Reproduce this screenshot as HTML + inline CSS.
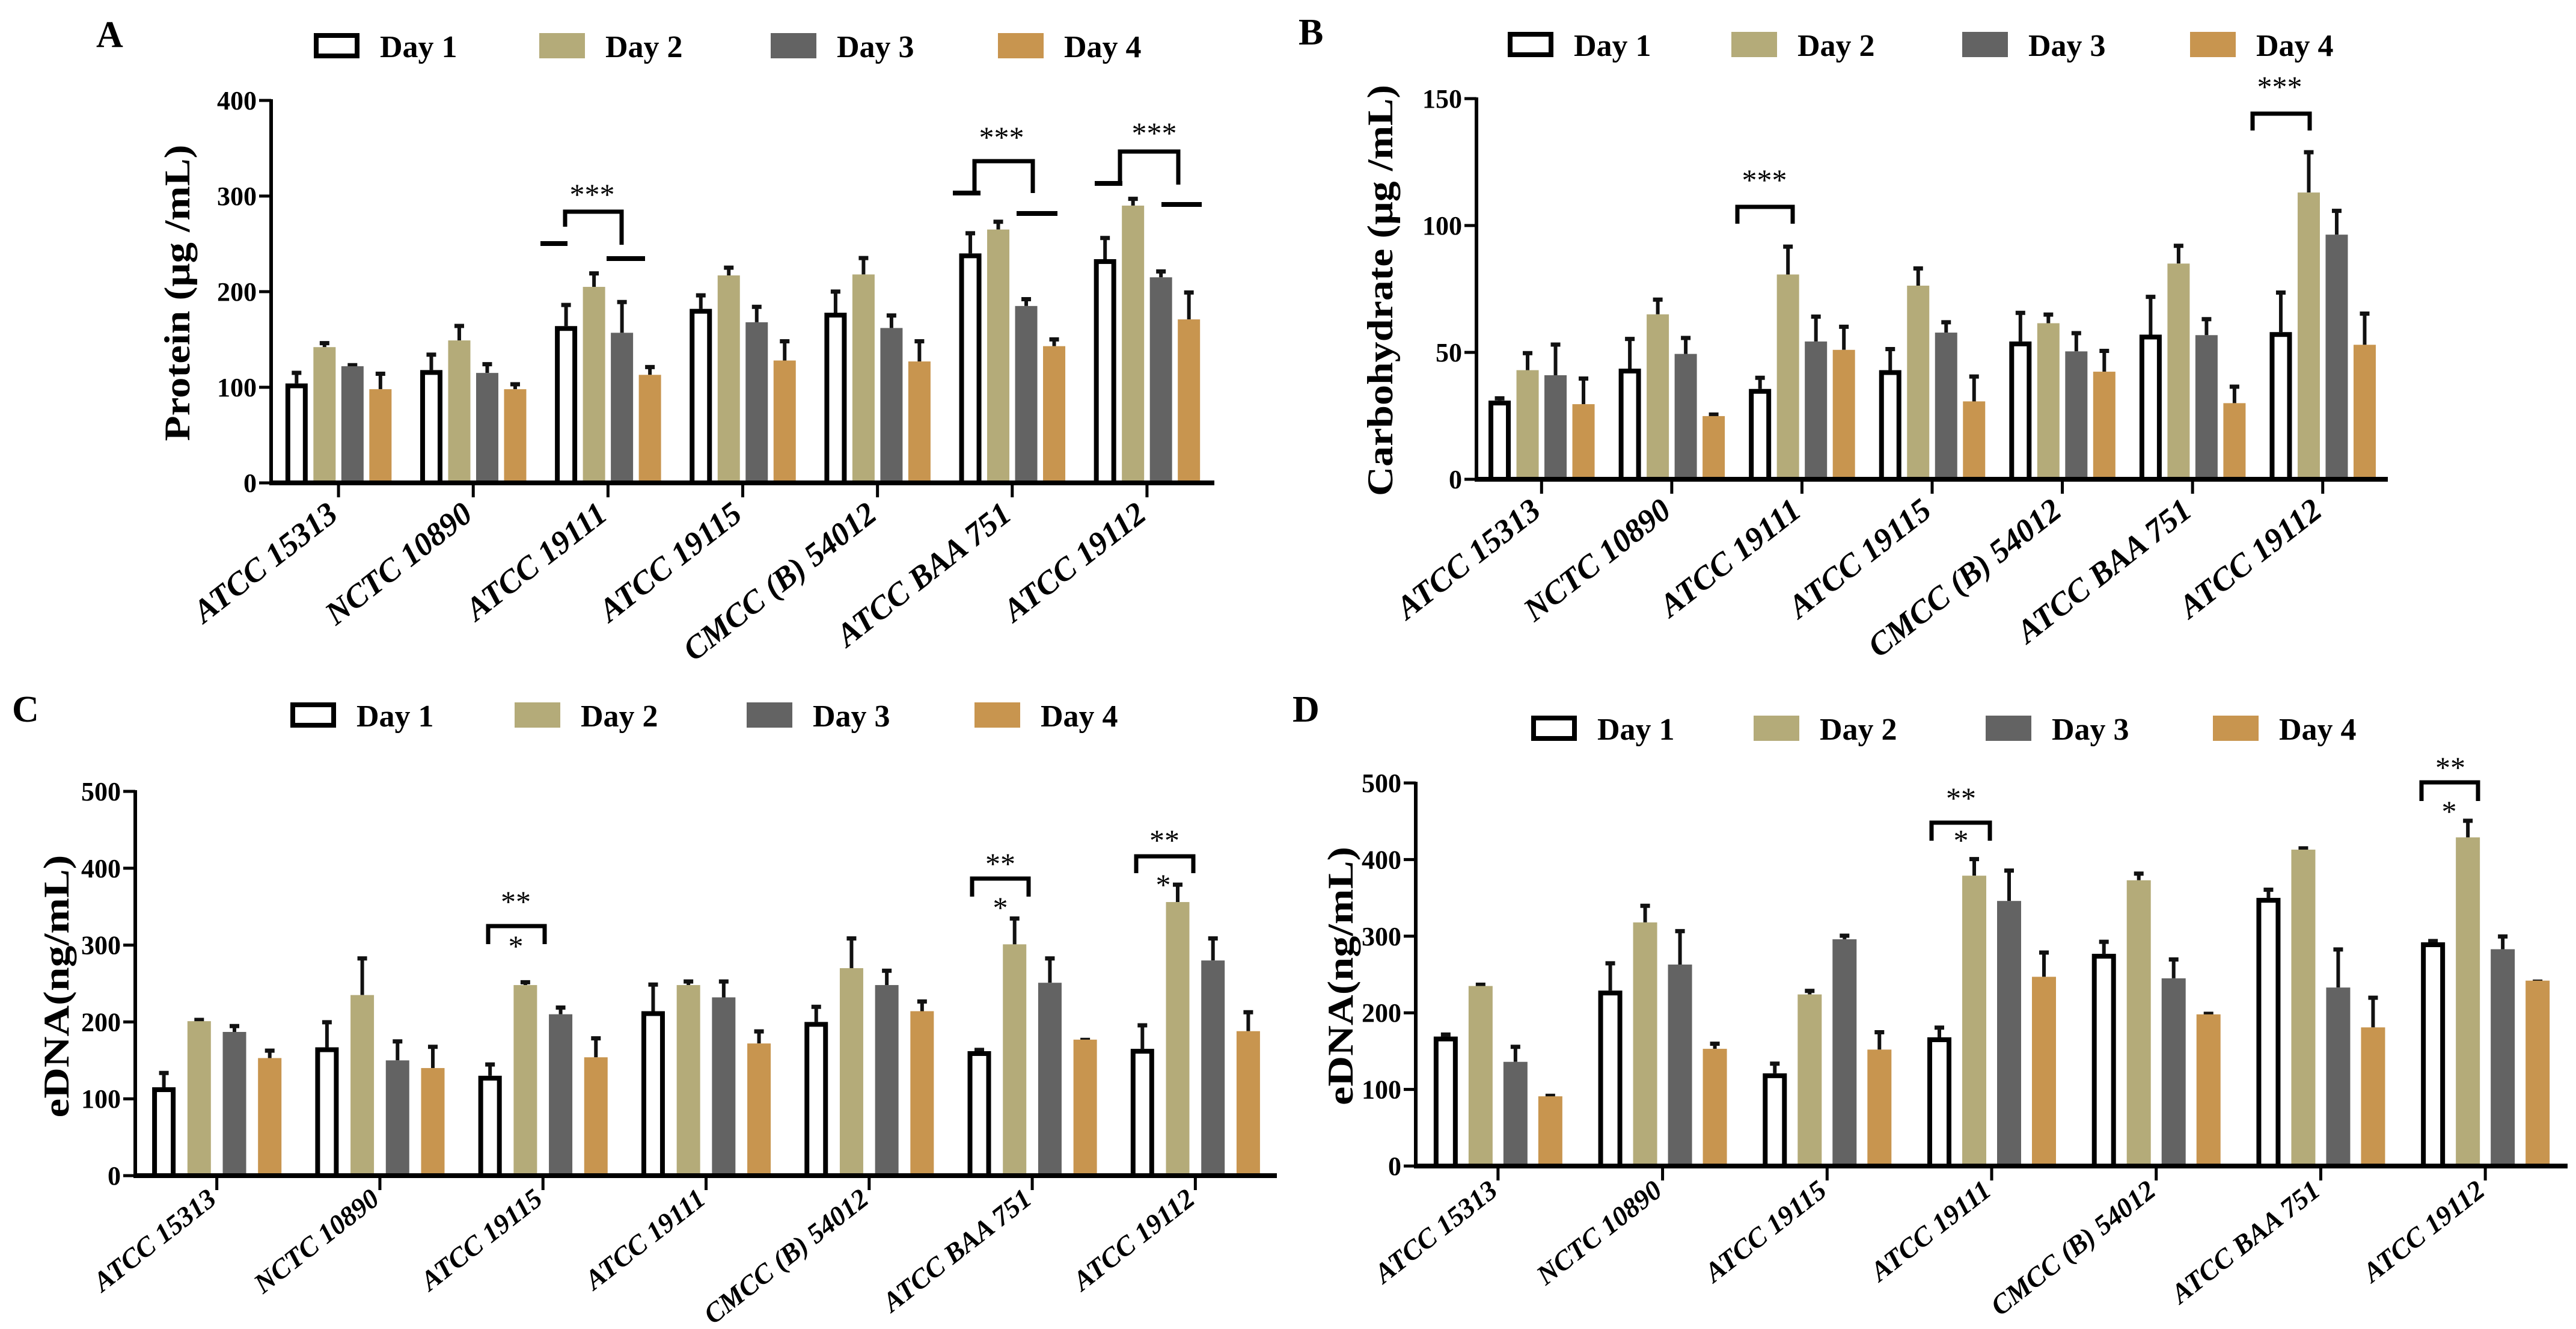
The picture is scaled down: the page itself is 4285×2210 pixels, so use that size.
<!DOCTYPE html>
<html><head><meta charset="utf-8"><style>
html,body{margin:0;padding:0;background:#fff;}
svg{display:block;}
text{font-family:"Liberation Serif",serif;}
</style></head><body>
<svg id="fig" xmlns="http://www.w3.org/2000/svg" width="4285" height="2210" viewBox="0 0 4285 2210">
<rect width="4285" height="2210" fill="#fff"/>
</svg>
<script>
// ---- data ----
const catsAB = ["ATCC 15313","NCTC 10890","ATCC 19111","ATCC 19115","CMCC (B) 54012","ATCC BAA 751","ATCC 19112"];
const catsCD = ["ATCC 15313","NCTC 10890","ATCC 19115","ATCC 19111","CMCC (B) 54012","ATCC BAA 751","ATCC 19112"];
const legendLabels = ["Day 1","Day 2","Day 3","Day 4"];

const protD1 = [104,118,164,182,178,240,234];
const protD2 = [142,149,205,217,218,265,290];
const protD3 = [122,115,157,168,162,185,215];
const protD4 = [98,98,113,128,127,143,171];
const protE1 = [117,136,188,198,202,263,258];
const protE2 = [148,166,221,227,237,275,299];
const protE3 = [125,126,191,186,177,194,223];
const protE4 = [116,105,123,150,150,152,201];
const protTicks = [0,100,200,300,400];

const carbD1 = [31,43.6,35.6,43,54.3,57,58];
const carbD2 = [43,65,80.7,76.3,61.5,85,113];
const carbD3 = [41,49.4,54.3,57.8,50.4,56.8,96.4];
const carbD4 = [29.6,24.9,51,30.7,42.4,30,53];
const carbE1 = [32.6,56,40.7,52,66.3,72.6,74.3];
const carbE2 = [50.4,71.5,92.4,83.8,65.6,92.7,129.6];
const carbE3 = [53.8,56.4,64.8,62.6,58.3,63.8,106.5];
const carbE4 = [40.4,26.2,60.8,41.2,51.3,37.2,66];
const carbTicks = [0,50,100,150];

const dnaCD1 = [115,167,130,214,200,162,165];
const dnaCD2 = [201,235,248,248,270,301,356];
const dnaCD3 = [187,150,210,232,248,251,280];
const dnaCD4 = [153,140,154,172,214,177,188];
const dnaCE1 = [136,202,147,251,222,166,198];
const dnaCE2 = [205,285,254,255,311,337,381];
const dnaCE3 = [197,177,221,255,269,285,311];
const dnaCE4 = [165,170,181,190,229,179,215];

const dnaDD1 = [169,229,121,168,277,350,292];
const dnaDD2 = [235,318,224,379,373,413,429];
const dnaDD3 = [136,263,296,346,245,233,283];
const dnaDD4 = [91,153,152,247,198,181,242];
const dnaDE1 = [174,267,136,183,295,363,296];
const dnaDE2 = [239,342,231,403,384,417,453];
const dnaDE3 = [158,309,303,388,272,285,302];
const dnaDE4 = [94,162,177,281,201,222,243];
const dnaTicks = [0,100,200,300,400,500];

// ---- drawing ----
const NS = "http://www.w3.org/2000/svg";
const svg = document.getElementById("fig");
const fills = ["#ffffff","#b4ab79","#636363","#c8954f"];
function mk(tag, attrs, parent){
  const e = document.createElementNS(NS, tag);
  for (const k in attrs) e.setAttribute(k, attrs[k]);
  (parent||svg).appendChild(e);
  return e;
}

function panel(cfg){
  const g = mk("g", {});
  
  
  const band = (cfg.xEnd - cfg.axisX) / cfg.cats.length;
  const xc = i => cfg.axisX + band * (i + 0.5);
  const y = v => cfg.y0 - (v / cfg.max) * (cfg.y0 - cfg.yTop);

  const L = mk("text", {x: cfg.letter[0], y: cfg.letter[1], "font-size": 62, "font-weight": "bold"}, g);
  L.textContent = cfg.letterText;
  
  

  cfg.legendX.forEach((lx, k) => {
    const lg = mk("g", {}, g);
    
    
    if (k === 0) mk("rect", {x: lx+4, y: cfg.legendY+4, width: 68, height: 34, fill: "#fff", stroke: "#000", "stroke-width": 8}, lg);
    else mk("rect", {x: lx, y: cfg.legendY, width: 76, height: 42, fill: fills[k]}, lg);
    const t = mk("text", {x: lx+110, y: cfg.legendY+40, "font-size": 52, "font-weight": "bold"}, lg);
    t.textContent = legendLabels[k];
  });

  const yt = mk("text", {x: 0, y: 0, "font-size": 60, "font-weight": "bold", "text-anchor": "middle",
    textLength: cfg.titleLen, lengthAdjust: "spacingAndGlyphs",
    transform: `translate(${cfg.titlePos[0]},${cfg.titlePos[1]}) rotate(-90)`}, g);
  yt.textContent = cfg.title;
  
  

  const series = cfg.series, errs = cfg.errs;
  const off = [-1.5,-0.5,0.5,1.5];
  for (let i = 0; i < cfg.cats.length; i++){
    for (let k = 0; k < 4; k++){
      const cx = xc(i) + off[k]*cfg.step;
      const v = series[k][i], e = errs[k][i];
      const top = y(v);
      const eb = mk("g", {}, g);
      
      
      mk("line", {x1: cx, x2: cx, y1: top, y2: y(e), stroke: "#111", "stroke-width": 6}, eb);
      mk("line", {x1: cx-8, x2: cx+8, y1: y(e)+3, y2: y(e)+3, stroke: "#111", "stroke-width": 7}, eb);
      let r;
      if (k === 0){
        r = mk("rect", {x: cx - cfg.barW/2 + 4, y: top + 4, width: cfg.barW - 8, height: Math.max(0, cfg.y0 - top - 4), fill: "#fff", stroke: "#000", "stroke-width": 8}, g);
      } else {
        r = mk("rect", {x: cx - cfg.barW/2, y: top, width: cfg.barW, height: cfg.y0 - top, fill: fills[k]}, g);
      }
      
      
    }
  }

  const ya = mk("line", {x1: cfg.axisX, x2: cfg.axisX, y1: cfg.yTop - 2, y2: cfg.y0 + 4, stroke: "#000", "stroke-width": 6}, g);
  
  
  const xa = mk("line", {x1: cfg.axisX - 3, x2: cfg.xEnd, y1: cfg.y0, y2: cfg.y0, stroke: "#000", "stroke-width": 8}, g);
  
  
  cfg.ticks.forEach(tv => {
    mk("line", {x1: cfg.axisX - 20, x2: cfg.axisX, y1: y(tv), y2: y(tv), stroke: "#000", "stroke-width": 5}, g);
    const t = mk("text", {x: cfg.axisX - 24, y: y(tv) + 15, "font-size": 44, "font-weight": "bold", "text-anchor": "end"}, g);
    t.textContent = tv;
    
    
  });
  cfg.cats.forEach((c, i) => {
    mk("line", {x1: xc(i), x2: xc(i), y1: cfg.y0, y2: cfg.y0 + 24, stroke: "#000", "stroke-width": 5}, g);
    const t = mk("text", {x: 0, y: 0, "font-size": cfg.labFont, "font-weight": "bold", "font-style": "italic", "text-anchor": "end",
      transform: `translate(${xc(i)+2},${cfg.y0 + cfg.labOff}) rotate(-38)`}, g);
    t.textContent = c;
    
    
  });

  (cfg.brackets||[]).forEach(b => {
    const bg = mk("g", {}, g);
    
    
    mk("polyline", {points: `${b[0]},${b[3]} ${b[0]},${b[2]} ${b[1]},${b[2]} ${b[1]},${b[4]}`, fill: "none", stroke: "#000", "stroke-width": 7}, bg);
  });
  (cfg.dashes||[]).forEach(d => {
    const l = mk("line", {x1: d[0], x2: d[1], y1: d[2], y2: d[2], stroke: "#000", "stroke-width": 8}, g);
    
    
  });
  (cfg.stars||[]).forEach(s => {
    const t = mk("text", {x: s[0], y: s[1], "font-size": 50, "text-anchor": "middle"}, g);
    t.textContent = s[2];
    
    
  });
}

panel({name: "panel-a-protein", letterText: "A", letter: [160, 78], cats: catsAB,
  axisX: 451, xEnd: 2020, y0: 803, yTop: 167, max: 400, ticks: protTicks, step: 46.5, barW: 37,
  labFont: 54, labOff: 58,
  series: [protD1, protD2, protD3, protD4], errs: [protE1, protE2, protE3, protE4],
  legendX: [522, 897, 1282, 1660], legendY: 55,
  title: "Protein (\u03bcg /mL)", titlePos: [315, 487], titleLen: 493,
  brackets: [[940,1034,352,377,407],[1621,1718,268,321,321],[1863,1960,252,307,307]],
  dashes: [[899,944,405],[1009,1073,430],[1585,1631,321],[1691,1759,355],[1821,1867,305],[1932,1999,340]],
  stars: [[985,340,"***"],[1666,245,"***"],[1920,238,"***"]]});

panel({name: "panel-b-carbohydrate", letterText: "B", letter: [2160, 74], cats: catsAB,
  axisX: 2456, xEnd: 3972, y0: 797, yTop: 164, max: 150, ticks: carbTicks, step: 46.5, barW: 37,
  labFont: 54, labOff: 58,
  series: [carbD1, carbD2, carbD3, carbD4], errs: [carbE1, carbE2, carbE3, carbE4],
  legendX: [2508, 2880, 3264, 3643], legendY: 53,
  title: "Carbohydrate (\u03bcg /mL)", titlePos: [2316, 483], titleLen: 684,
  brackets: [[2890,2982,344,372,372],[3747,3842,189,217,217]],
  stars: [[2935,316,"***"],[3792,161,"***"]]});

panel({name: "panel-c-edna", letterText: "C", letter: [20, 1200], cats: catsCD,
  axisX: 225, xEnd: 2124, y0: 1955, yTop: 1316, max: 500, ticks: dnaTicks, step: 58.7, barW: 39,
  labFont: 46, labOff: 44,
  series: [dnaCD1, dnaCD2, dnaCD3, dnaCD4], errs: [dnaCE1, dnaCE2, dnaCE3, dnaCE4],
  legendX: [483, 856, 1242, 1621], legendY: 1168,
  title: "eDNA(ng/mL)", titlePos: [114, 1640], titleLen: 437,
  brackets: [[812,906,1540,1570,1570],[1617,1711,1461,1491,1491],[1890,1985,1424,1452,1452]],
  stars: [[858,1516,"**"],[858,1590,"*"],[1664,1453,"**"],[1664,1526,"*"],[1937,1414,"**"],[1935,1488,"*"]]});

panel({name: "panel-d-edna", letterText: "D", letter: [2150, 1200], cats: catsCD,
  axisX: 2355, xEnd: 4271, y0: 1939, yTop: 1302, max: 500, ticks: dnaTicks, step: 58, barW: 40,
  labFont: 46, labOff: 46,
  series: [dnaDD1, dnaDD2, dnaDD3, dnaDD4], errs: [dnaDE1, dnaDE2, dnaDE3, dnaDE4],
  legendX: [2547, 2917, 3303, 3681], legendY: 1190,
  title: "eDNA(ng/mL)", titlePos: [2250, 1623], titleLen: 430,
  brackets: [[3213,3310,1368,1398,1398],[4028,4122,1301,1332,1332]],
  stars: [[3262,1344,"**"],[3262,1414,"*"],[4076,1293,"**"],[4074,1366,"*"]]});
</script>
</body></html>
